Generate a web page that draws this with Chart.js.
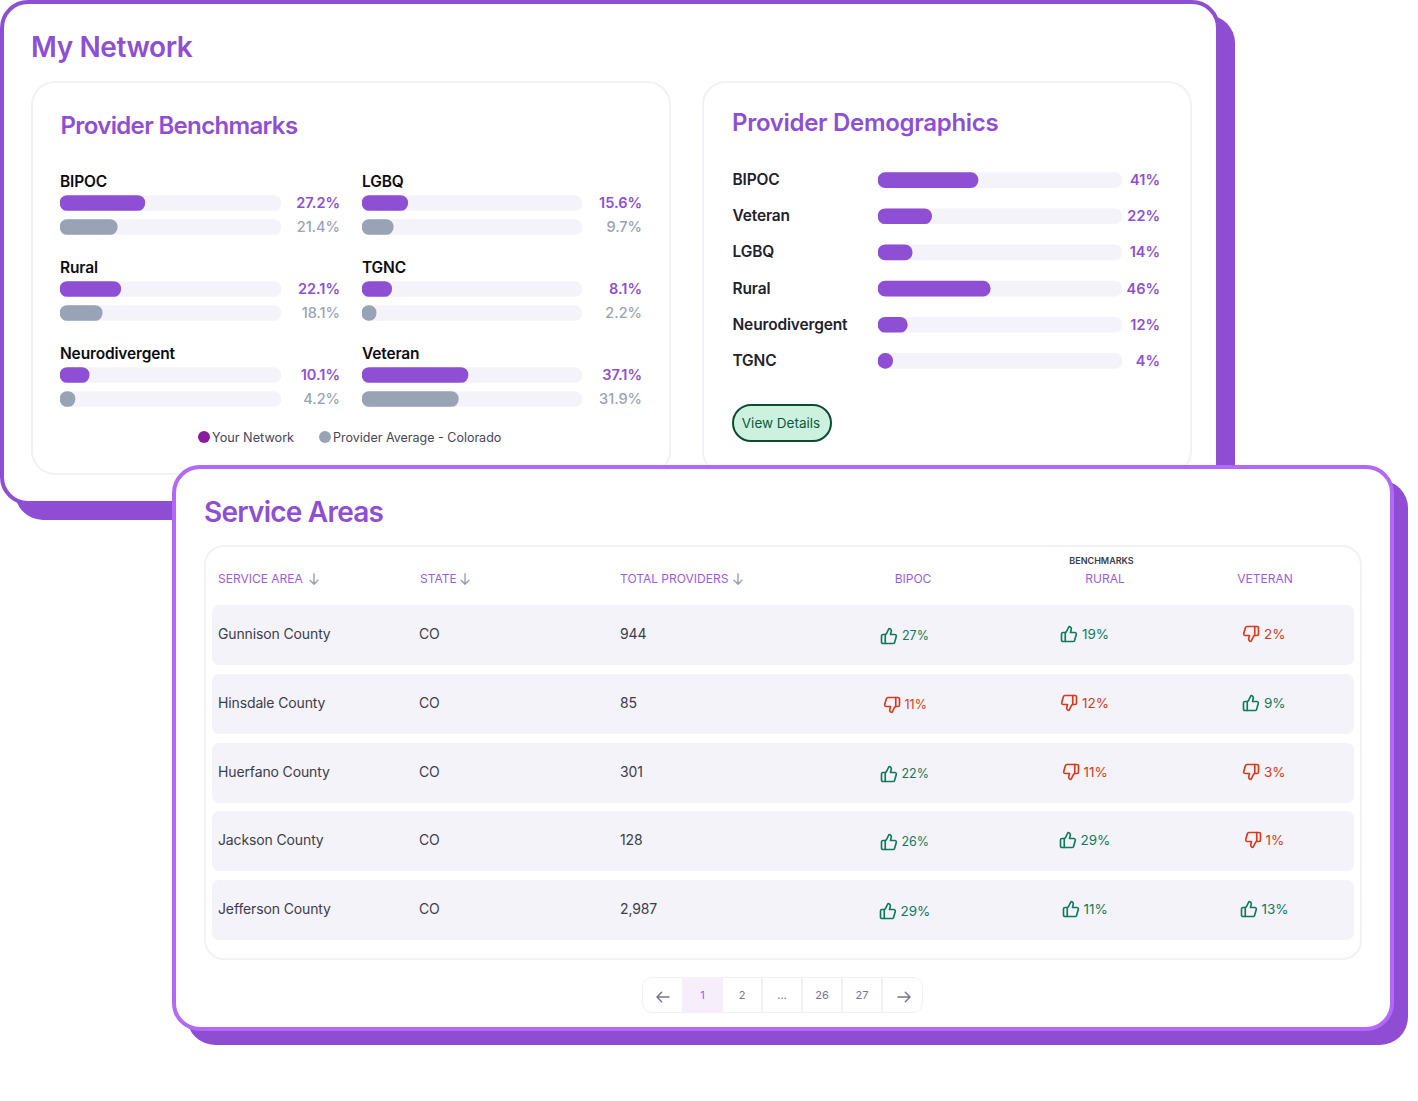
<!DOCTYPE html>
<html>
<head>
<meta charset="utf-8">
<title>My Network</title>
<script src="https://cdn.jsdelivr.net/npm/chart.js@4"></script>
<style>
  html, body { margin: 0; padding: 0; background: #fff; }
  body { position: relative; width: 1418px; height: 1101px; overflow: hidden; font-family: Inter, sans-serif; }
  .box { position: absolute; box-sizing: border-box; }
  .txt { position: absolute; white-space: nowrap; line-height: 20px; height: 20px; }
  .title { color: #8e4fd4; font-weight: 600; line-height: 36px; height: 36px; }
  canvas { position: absolute; }
  svg { position: absolute; }
  .page { position: absolute; box-sizing: border-box; top: 977px; height: 36px; border-right: 2px solid #f1f0f5; text-align: center; line-height: 36px; font-size: 11px; color: #77748f; }
</style>
</head>
<body>
<script>
const benchmarkNames = ["BIPOC", "LGBQ", "Rural", "TGNC", "Neurodivergent", "Veteran"];
const networkValues = ["27.2%", "15.6%", "22.1%", "8.1%", "10.1%", "37.1%"];
const averageValues = ["21.4%", "9.7%", "18.1%", "2.2%", "4.2%", "31.9%"];
// bar lengths as drawn, in % of the track (they do not follow the printed numbers)
const networkLengths = [38.4, 20.8, 27.5, 13.5, 13.2, 48.2];
const averageLengths = [25.9, 14.2, 19.1, 6.4, 6.8, 43.8];

const demoNames = ["BIPOC", "Veteran", "LGBQ", "Rural", "Neurodivergent", "TGNC"];
const demoValues = [41, 22, 14, 46, 12, 4];
const demoLengths = [41, 22, 14, 46, 12, 6];

const areaNames = ["Gunnison County", "Hinsdale County", "Huerfano County", "Jackson County", "Jefferson County"];
const areaStates = ["CO", "CO", "CO", "CO", "CO"];
const areaTotals = ["944", "85", "301", "128", "2,987"];
const bipocPct = [27, 11, 22, 26, 29];
const ruralPct = [19, 12, 11, 29, 11];
const veteranPct = [2, 9, 3, 1, 13];
const bipocUp = [true, false, true, true, true];
const ruralUp = [true, false, false, true, true];
const veteranUp = [false, true, false, false, true];

const pageLabels = ["1", "2", "...", "26", "27"];

const PURPLE = "#8e4fd4";
const GRAY = "#99a3b6";
const TRACK = "#f4f3fa";

function addBox(x, y, w, h, css) {
  const d = document.createElement("div");
  d.className = "box";
  d.style.cssText = `left:${x}px;top:${y}px;width:${w}px;height:${h}px;${css}`;
  document.body.appendChild(d);
  return d;
}

// cy is the vertical centre of the text, align says which side x is on
function addText(str, x, cy, size, weight, color, align, extra) {
  const d = document.createElement("div");
  d.className = "txt";
  d.textContent = str;
  let pos = `left:${x}px;`;
  if (align === "right") pos = `right:${1418 - x}px;`;
  if (align === "center") pos = `left:${x}px;transform:translateX(-50%);`;
  d.style.cssText = `${pos}top:${cy - 10}px;font-size:${size}px;font-weight:${weight};color:${color};${extra || ""}`;
  document.body.appendChild(d);
  return d;
}

function addTitle(str, x, cy, size, spacing) {
  const d = document.createElement("div");
  d.className = "txt title";
  d.textContent = str;
  d.style.cssText = `left:${x}px;top:${cy - 18}px;font-size:${size}px;letter-spacing:${spacing}px;`;
  document.body.appendChild(d);
}

function addSvg(x, y, size, inner, color, extra) {
  const wrap = document.createElementNS("http://www.w3.org/2000/svg", "svg");
  wrap.setAttribute("viewBox", "0 0 24 24");
  wrap.setAttribute("width", size);
  wrap.setAttribute("height", size);
  wrap.setAttribute("fill", "none");
  wrap.setAttribute("stroke", color);
  wrap.setAttribute("stroke-width", "2.2");
  wrap.setAttribute("stroke-linejoin", "round");
  wrap.setAttribute("stroke-linecap", "round");
  wrap.style.cssText = `left:${x}px;top:${y}px;${extra || ""}`;
  wrap.innerHTML = inner;
  document.body.appendChild(wrap);
}

function barChart(x, y, w, h, labels, lengths, colors, thickness) {
  const c = document.createElement("canvas");
  c.style.left = x + "px";
  c.style.top = y + "px";
  c.width = w;
  c.height = h;
  c.style.width = w + "px";
  c.style.height = h + "px";
  document.body.appendChild(c);
  return new Chart(c.getContext("2d"), {
    type: "bar",
    data: {
      labels: labels,
      datasets: [
        { data: lengths, backgroundColor: colors, order: 1, grouped: false, barThickness: thickness, borderRadius: 8, borderSkipped: false },
        { data: labels.map(() => 100), backgroundColor: TRACK, order: 2, grouped: false, barThickness: thickness, borderRadius: 8, borderSkipped: false }
      ]
    },
    options: {
      indexAxis: "y",
      responsive: false,
      animation: false,
      layout: { padding: 0 },
      plugins: { legend: { display: false }, tooltip: { enabled: false } },
      scales: {
        x: { display: false, min: 0, max: 100 },
        y: { display: false }
      }
    }
  });
}

const LABEL_FIT = "letter-spacing:-0.15px;";
const BODY_FIT = "letter-spacing:-0.13px;";

// My Network card
addBox(15, 15, 1220, 505, "background:#8e4dd2;border-radius:28px;");
addBox(0, 0, 1220, 505, `background:#fff;border:4px solid ${PURPLE};border-radius:28px;`);
addTitle("My Network", 31, 47, 28, -0.4);

// Provider Benchmarks panel
addBox(31, 81, 640, 394, "border:2px solid #f2f1f6;border-radius:24px;");
addTitle("Provider Benchmarks", 60.5, 126, 24, -0.65);

const colX = [60, 362];
const colW = [221, 220];
const valRight = [340, 642];
const rowTop = [191, 277, 363];
benchmarkNames.forEach((name, i) => {
  const col = i % 2;
  const top = rowTop[Math.floor(i / 2)];
  addText(name, colX[col], top - 9.5, 15.5, 600, "#0c0c12", "left", LABEL_FIT);
  barChart(colX[col], top, colW[col], 48, ["Your Network", "Provider Average"],
    [networkLengths[i], averageLengths[i]], [PURPLE, GRAY], 15);
  addText(networkValues[i], valRight[col], top + 12, 14.5, 600, PURPLE, "right");
  addText(averageValues[i], valRight[col], top + 36, 14.5, 500, GRAY, "right");
});

addBox(198, 431, 12, 12, "background:#8a1c9e;border-radius:50%;");
addText("Your Network", 212, 437.5, 12.7, 400, "#45465a");
addBox(319, 431, 12, 12, `background:${GRAY};border-radius:50%;`);
addText("Provider Average - Colorado", 333, 437.5, 12.5, 400, "#45465a");

// Provider Demographics panel
addBox(702, 81, 490, 394, "border:2px solid #f2f1f6;border-radius:24px;");
addTitle("Provider Demographics", 732, 122.5, 24, -0.3);

barChart(878, 162, 244, 217, demoNames, demoLengths, PURPLE, 15);
demoNames.forEach((name, i) => {
  const cy = 180 + i * 36.2;
  addText(name, 732.5, cy, 15.5, 600, "#22222e", "left", LABEL_FIT);
  addText(demoValues[i] + "%", 1160, cy, 14.5, 600, PURPLE, "right");
});

addBox(732, 404, 100, 38, "background:#cdf1df;border:2px solid #0c4a32;border-radius:19px;");
addText("View Details", 781, 423, 13.5, 400, "#0c5a3c", "center");

// Service Areas card
addBox(187, 480, 1221, 565, "background:#8e4dd2;border-radius:28px;");
addBox(172, 465, 1221.5, 566, "background:#fff;border:4px solid #b268fb;border-radius:28px;");
addTitle("Service Areas", 204, 512, 28, -0.77);
addBox(204, 545, 1158, 415, "border:2px solid #f2f1f6;border-radius:20px;");

const HEAD = "#9a5ce6";
const ARROW_DOWN = '<path d="M12 3v18M5 14l7 7 7-7"/>';
addText("SERVICE AREA", 218, 579, 12, 400, HEAD);
addSvg(307, 572, 14, ARROW_DOWN, "#8f9bb0");
addText("STATE", 420, 579, 12, 400, HEAD);
addSvg(458, 572, 14, ARROW_DOWN, "#8f9bb0");
addText("TOTAL PROVIDERS", 620, 579, 12, 400, HEAD);
addSvg(731, 572, 14, ARROW_DOWN, "#8f9bb0");
addText("BIPOC", 913, 579, 12, 400, HEAD, "center");
addText("RURAL", 1105, 579, 12, 400, HEAD, "center");
addText("VETERAN", 1265, 579, 12, 400, HEAD, "center");
addText("BENCHMARKS", 1101.5, 561, 9, 600, "#3b3b4a", "center");

const THUMB = '<path d="M7 10v12"/><path d="M15 5.9 14 10h5.8a2 2 0 0 1 1.9 2.6l-2.3 8a2 2 0 0 1-1.9 1.4H4a2 2 0 0 1-2-2v-8a2 2 0 0 1 2-2h2.8a2 2 0 0 0 1.8-1.1L12 2a3.1 3.1 0 0 1 3 3.9Z"/>';

// thumb and number centred together on cx
function addBench(pct, up, cx, cy, size) {
  const color = up ? "#0f7a5c" : "#d63a1a";
  const label = addText(pct + "%", 0, cy, size, 400, color);
  const left = cx - (label.offsetWidth + 22) / 2;
  label.style.left = left + 22 + "px";
  addSvg(left, cy - 9, 18, THUMB, color, up ? "" : "transform:rotate(180deg);");
}

const rowTops = [605, 674, 743, 811, 880];
areaNames.forEach((name, i) => {
  const top = rowTops[i];
  addBox(212, top, 1142, 60, "background:#f4f3fa;border-radius:7px;");
  addText(name, 218, top + 29, 14, 400, "#3d3d4d", "left", BODY_FIT);
  addText(areaStates[i], 419, top + 29, 14, 400, "#3d3d4d", "left", BODY_FIT);
  addText(areaTotals[i], 620, top + 29, 14, 400, "#3d3d4d", "left", BODY_FIT);
  addBench(bipocPct[i], bipocUp[i], 904.5, top + 30.5, i < 4 ? 12.5 : 13.5);
  addBench(ruralPct[i], ruralUp[i], 1084.5, top + 29, 13.5);
  addBench(veteranPct[i], veteranUp[i], 1264, top + 29, 13.5);
});

// Pagination
addBox(642, 977, 281, 36, "border:1.5px solid #f1f0f5;border-radius:10px;");
const pageX = [682, 723, 763, 803, 843];
const pageW = [41, 40, 40, 40, 40];
pageLabels.forEach((label, i) => {
  const d = document.createElement("div");
  d.className = "page";
  d.textContent = label;
  d.style.left = pageX[i] + "px";
  d.style.width = pageW[i] + "px";
  if (i === 0) {
    d.style.background = "#f6effb";
    d.style.color = "#9a5ce6";
    d.style.borderRight = "none";
  }
  document.body.appendChild(d);
});
addSvg(654.5, 988.5, 16, '<path d="M21 12H3M10 5l-7 7 7 7"/>', "#77748f");
addSvg(895.5, 988.5, 16, '<path d="M3 12h18M14 5l7 7-7 7"/>', "#77748f");
</script>
</body>
</html>
